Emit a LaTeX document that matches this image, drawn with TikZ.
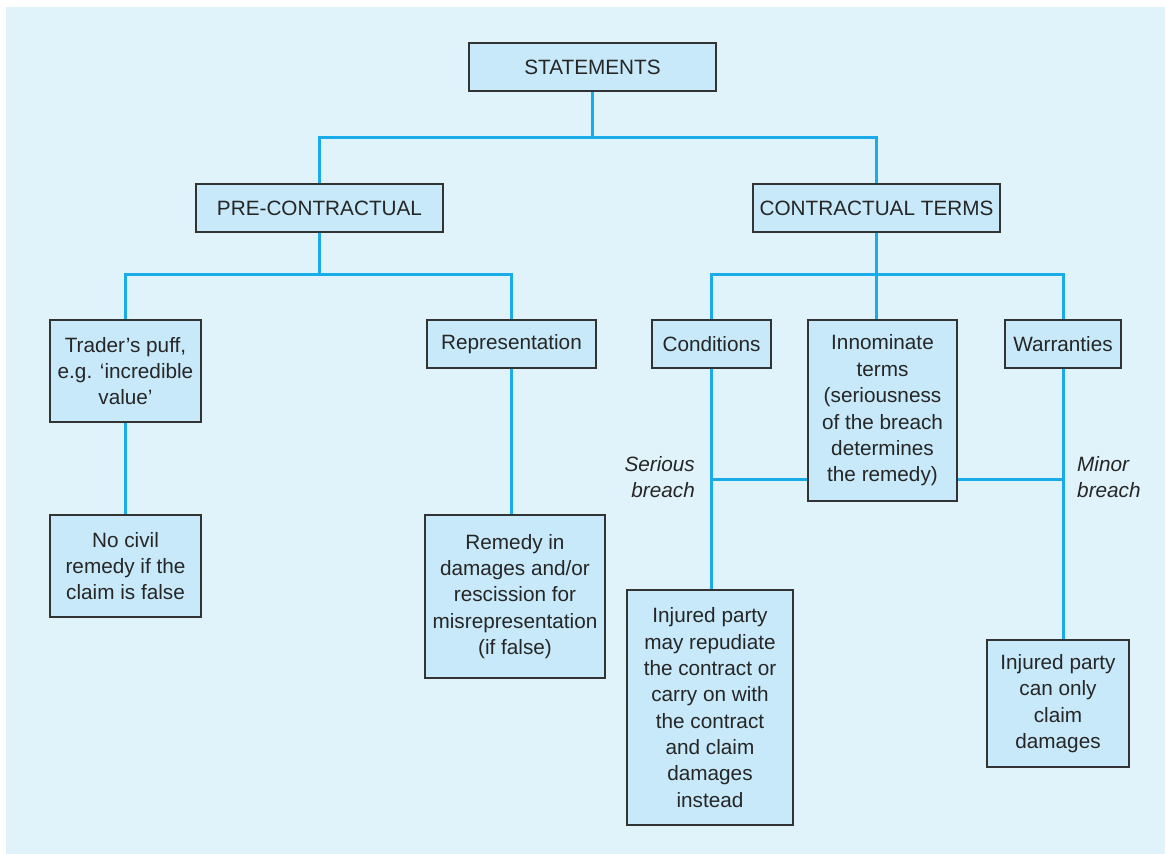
\documentclass[tikz,border=0pt]{standalone}
\usepackage{fontspec}
\setmainfont{Liberation Sans}
\usepackage{tikz}
\usepackage{xcolor}
\definecolor{tlo}{HTML}{E0F2FA}
\definecolor{pole}{HTML}{C7E9F9}
\definecolor{linia}{HTML}{1AACE8}
\definecolor{ramka}{HTML}{333333}

\begin{document}
\begin{tikzpicture}[
  x=0.02cm, y=-0.02cm,
  font=\fontsize{11.8}{15}\selectfont,
  kast/.style={draw=ramka, line width=0.7pt, fill=pole, align=center, inner sep=2pt, text=black!85},
  link/.style={draw=linia, line width=1.7pt},
  uwaga/.style={font=\fontsize{11.8}{15}\selectfont\itshape, text=black!85},
]
\useasboundingbox (0,0) rectangle (1165,854);
\fill[tlo] (6,7) rectangle (1165,854);
% poziom 1-2
\node[kast, minimum width=4.94cm, minimum height=0.96cm] (stmt) at (592.5,67) {STATEMENTS};
\node[kast, minimum width=4.94cm, minimum height=0.96cm] (pre) at (319.5,208) {PRE-CONTRACTUAL};
\node[kast, minimum width=4.94cm, minimum height=0.96cm] (ct) at (876.5,208) {CONTRACTUAL TERMS};
% przedumowne
\node[kast, minimum width=3.02cm, minimum height=2.04cm] (puff) at (125.5,371) {Trader’s puff,\\ e.g. ‘incredible\\ value’};
\node[kast, minimum width=3.38cm, minimum height=0.96cm] (rep) at (511.5,344) {Representation};
\node[kast, minimum width=3.02cm, minimum height=2.04cm] (civil) at (125.5,566) {No civil\\ remedy if the\\ claim is false};
\node[kast, minimum width=3.6cm, minimum height=3.26cm] (remedy) at (515,596.5) {Remedy in\\ damages and/or\\ rescission for\\ misrepresentation\\ (if false)};
% warunki umowy
\node[kast, minimum width=2.38cm, minimum height=0.96cm] (cond) at (711.5,344) {Conditions};
\node[kast, minimum width=2.98cm, minimum height=3.62cm] (inno) at (882.5,410.5) {Innominate\\ terms\\ (seriousness\\ of the breach\\ determines\\ the remedy)};
\node[kast, minimum width=2.32cm, minimum height=0.96cm] (warr) at (1063,344) {Warranties};
\node[kast, minimum width=3.32cm, minimum height=4.7cm] (inj1) at (710,707.5) {Injured party\\ may repudiate\\ the contract or\\ carry on with\\ the contract\\ and claim\\ damages\\ instead};
\node[kast, minimum width=2.84cm, minimum height=2.54cm] (inj2) at (1058,703.5) {Injured party\\ can only\\ claim\\ damages};
% etykiety
\node[uwaga, anchor=east, align=right] (serious) at (701,477) {Serious\\ breach};
\node[uwaga, anchor=west, align=left] (minor) at (1071,477) {Minor\\ breach};
% polaczenia
\draw[link] (stmt.south) -- ++(0,46) -| (pre.north);
\draw[link] (stmt.south) -- ++(0,46) -| (ct.north);
\draw[link] (pre.south) -- ++(0,42) -| (puff.north);
\draw[link] (pre.south) -- ++(0,42) -| (rep.north);
\draw[link] (ct.south) -- ++(0,42) -| (cond.north);
\draw[link] (ct.south) -- ++(0,42) -| (warr.north);
\draw[link] (ct.south) -- (ct.south |- inno.north);
\draw[link] (puff.south) -- (civil.north);
\draw[link] (rep.south) -- (rep.south |- remedy.north);
\draw[link] (cond.south) -- (cond.south |- inj1.north);
\draw[link] (warr.south) -- (warr.south |- inj2.north);
\path (inno.south west) ++(0,-22) coordinate (bl);
\path (inno.south east) ++(0,-22) coordinate (br);
\draw[link] (bl) -- (bl -| cond.south);
\draw[link] (br) -- (br -| warr.south);
\end{tikzpicture}
\end{document}
